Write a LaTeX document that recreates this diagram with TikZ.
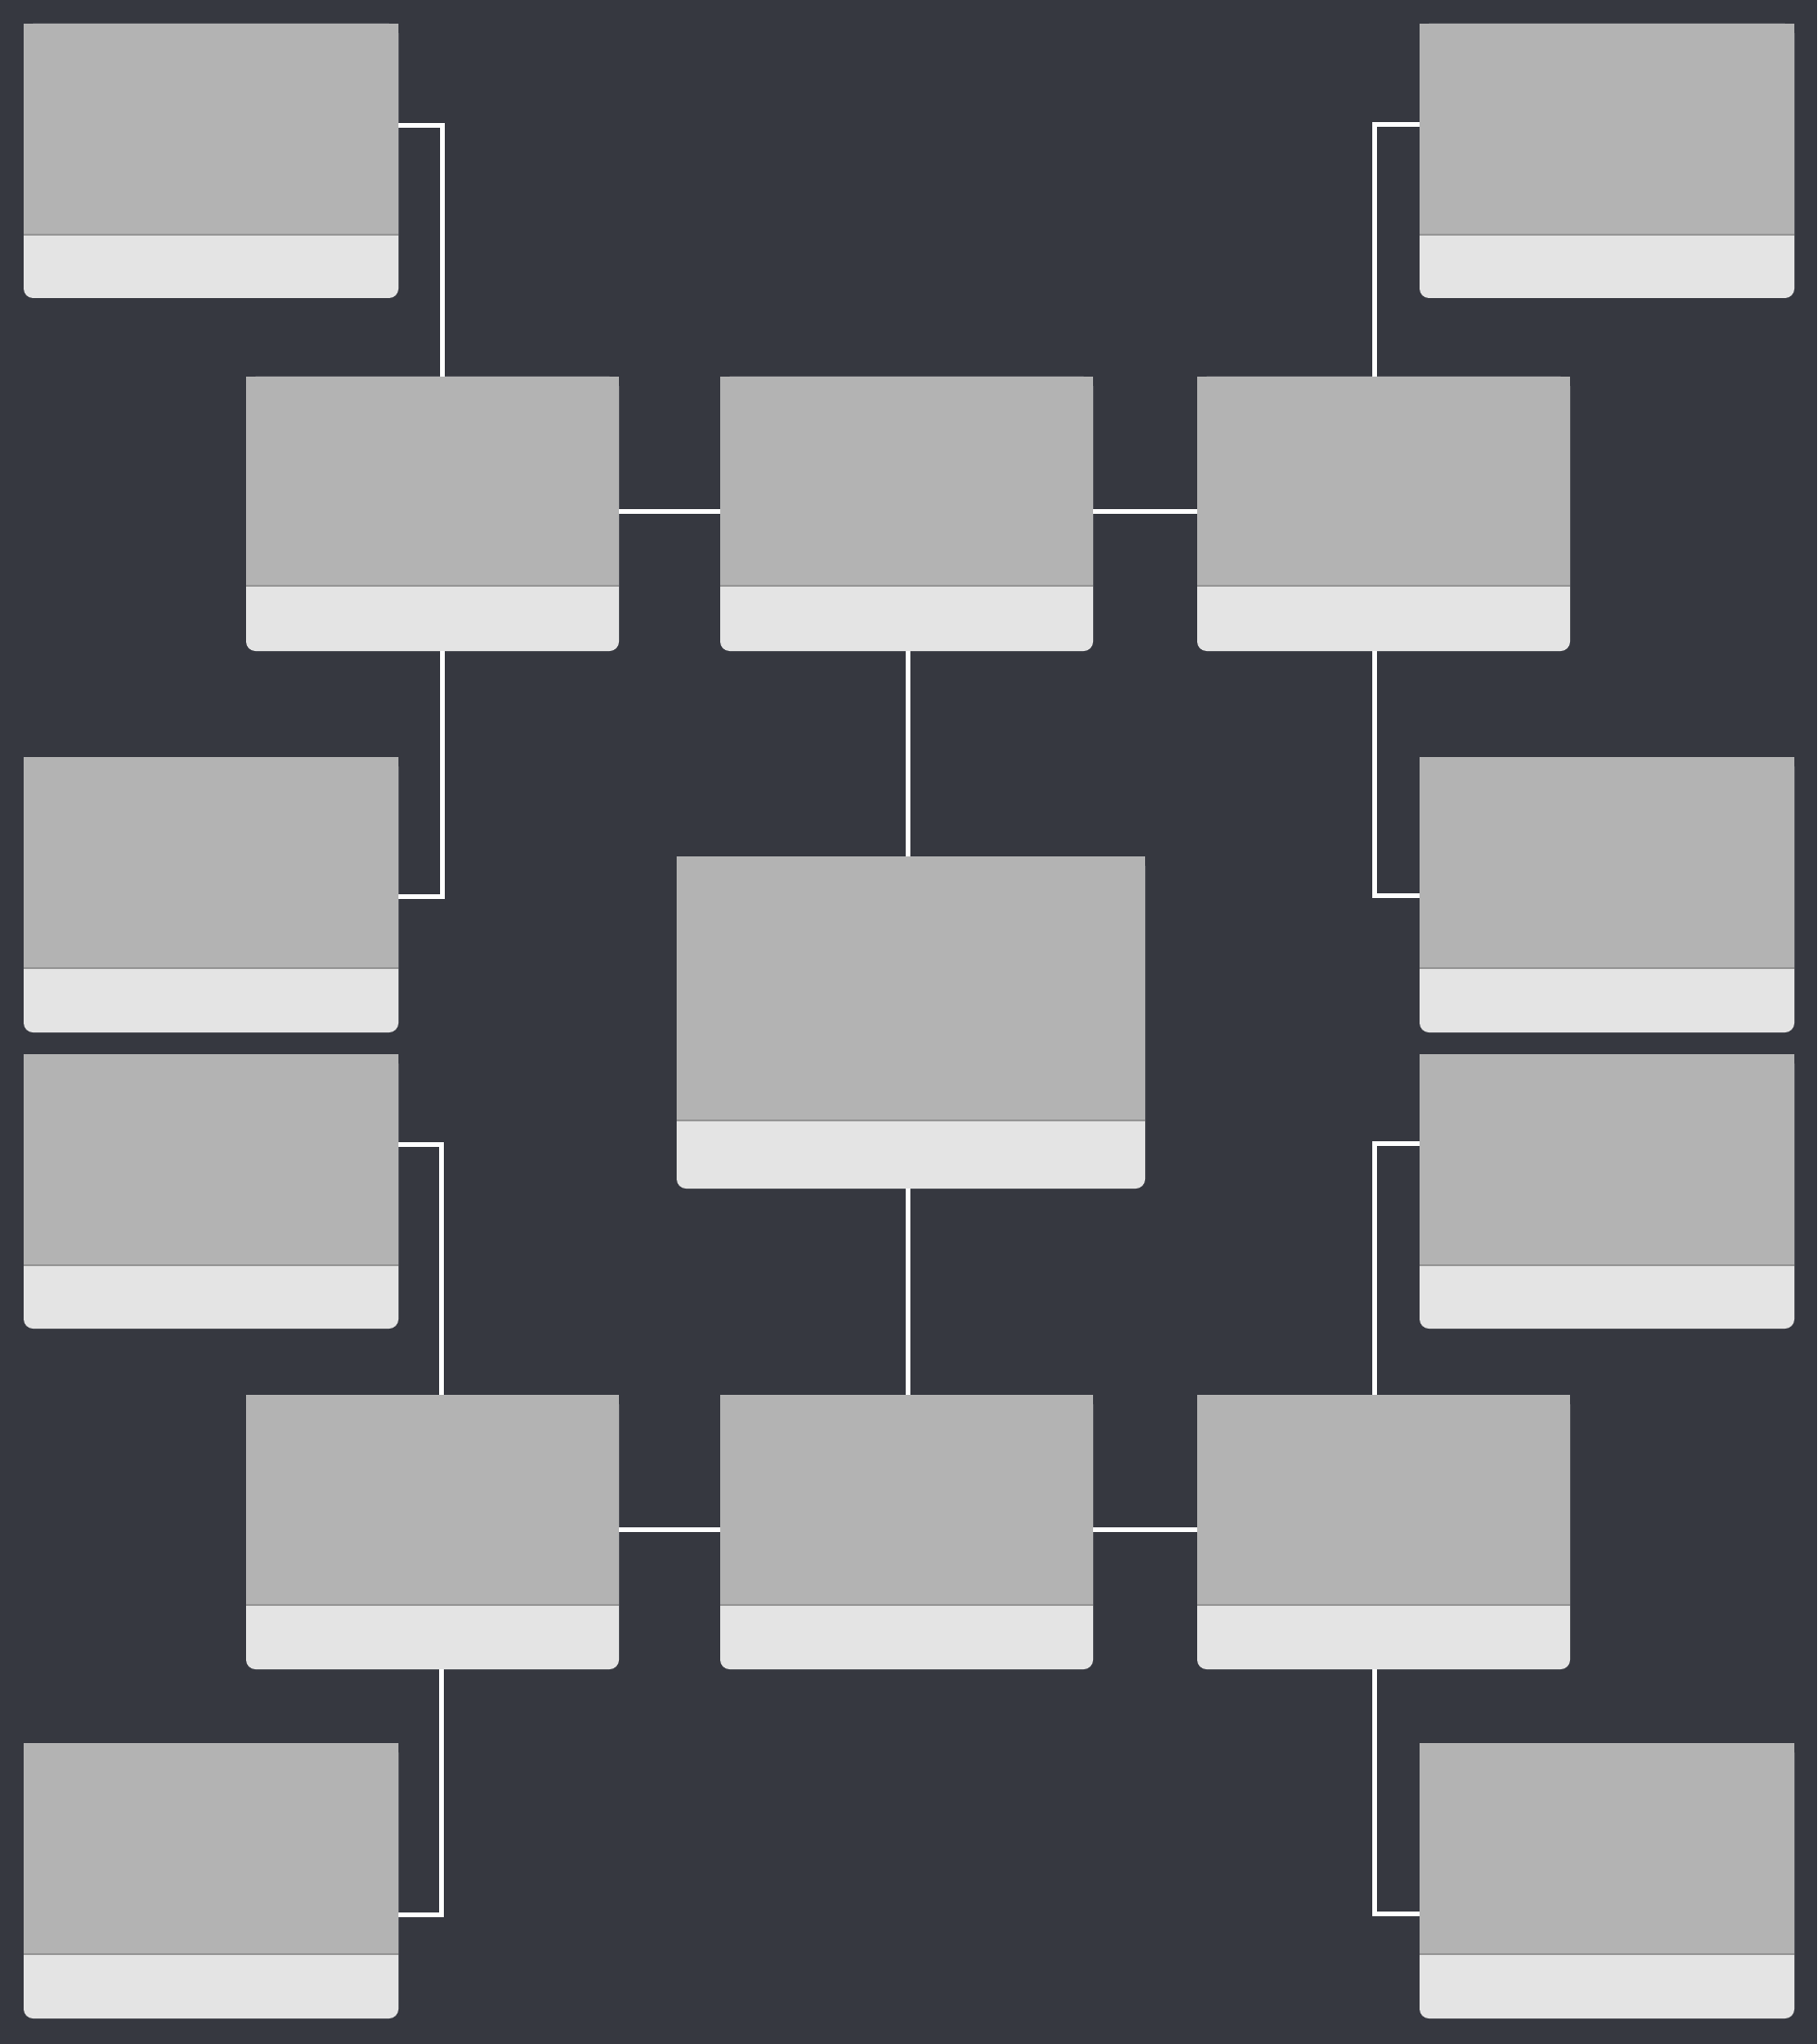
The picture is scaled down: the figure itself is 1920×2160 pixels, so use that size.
\documentclass[tikz,border=0pt]{standalone}
\usetikzlibrary{fit}
\definecolor{bgcol}{RGB}{54,56,64}
\definecolor{cardgray}{RGB}{179,179,179}
\definecolor{cardlight}{RGB}{228,228,228}
\definecolor{splitcol}{RGB}{150,150,150}
\tikzset{
  x=0.025cm, y=-0.025cm,
  lightpart/.style={fill=cardlight, rounded corners=0.25cm},
  graypart/.style={fill=cardgray},
  splitline/.style={draw=splitcol, line width=0.03cm},
  cardnode/.style={inner sep=0pt, outer sep=0pt},
  conn/.style={draw=white, line width=0.125cm, line join=miter, line cap=butt}
}
\newcommand\cardbox[6]{%
  \fill[lightpart] (#2,#3) rectangle (#4,#5);
  \fill[graypart] (#2,#3) rectangle (#4,#6);
  \draw[splitline] (#2,#6) -- (#4,#6);
  \node[cardnode, fit={(#2,#3) (#4,#5)}] (#1) {};
}
\begin{document}
\begin{tikzpicture}
\fill[bgcol] (0,0) rectangle (1920,2160);
\useasboundingbox (0,0) rectangle (1920,2160);

% corner boxes
\cardbox{ctl}{25}{25}{421}{315}{248}
\cardbox{ctr}{1500}{25}{1896}{315}{248}
\cardbox{cml}{25}{800}{421}{1091}{1023}
\cardbox{cmr}{1500}{800}{1896}{1091}{1023}
\cardbox{cnl}{25}{1114}{421}{1404}{1337}
\cardbox{cnr}{1500}{1114}{1896}{1404}{1337}
\cardbox{cbl}{25}{1842}{421}{2133}{2065}
\cardbox{cbr}{1500}{1842}{1896}{2133}{2065}

% upper row
\cardbox{ul}{260}{398}{654}{688}{619}
\cardbox{uc}{761}{398}{1155}{688}{619}
\cardbox{ur}{1265}{398}{1659}{688}{619}

% center
\cardbox{cen}{715}{905}{1210}{1256}{1184}

% lower row
\cardbox{ll}{260}{1474}{654}{1764}{1696}
\cardbox{lc}{761}{1474}{1155}{1764}{1696}
\cardbox{lr}{1265}{1474}{1659}{1764}{1696}

% bend points
\coordinate (b1) at (467,133);
\coordinate (b2) at (1452,132);
\coordinate (b3) at (467,947);
\coordinate (b4) at (1452,946);
\coordinate (b5) at (466,1209);
\coordinate (b6) at (1452,1208);
\coordinate (b7) at (466,2023);
\coordinate (b8) at (1452,2022);
\coordinate (m1) at (959,540);
\coordinate (m2) at (959,1616);

% connectors
\draw[conn] (ctl.east |- b1) -- (b1) -- (b1 |- ul.north);
\draw[conn] (ctr.west |- b2) -- (b2) -- (b2 |- ur.north);
\draw[conn] (b3 |- ul.south) -- (b3) -- (cml.east |- b3);
\draw[conn] (b4 |- ur.south) -- (b4) -- (cmr.west |- b4);
\draw[conn] (cnl.east |- b5) -- (b5) -- (b5 |- ll.north);
\draw[conn] (cnr.west |- b6) -- (b6) -- (b6 |- lr.north);
\draw[conn] (b7 |- ll.south) -- (b7) -- (cbl.east |- b7);
\draw[conn] (b8 |- lr.south) -- (b8) -- (cbr.west |- b8);

\draw[conn] (ul.east |- m1) -- (uc.west |- m1);
\draw[conn] (uc.east |- m1) -- (ur.west |- m1);
\draw[conn] (ll.east |- m2) -- (lc.west |- m2);
\draw[conn] (lc.east |- m2) -- (lr.west |- m2);
\draw[conn] (m1 |- uc.south) -- (m1 |- cen.north);
\draw[conn] (m1 |- cen.south) -- (m1 |- lc.north);
\end{tikzpicture}
\end{document}
